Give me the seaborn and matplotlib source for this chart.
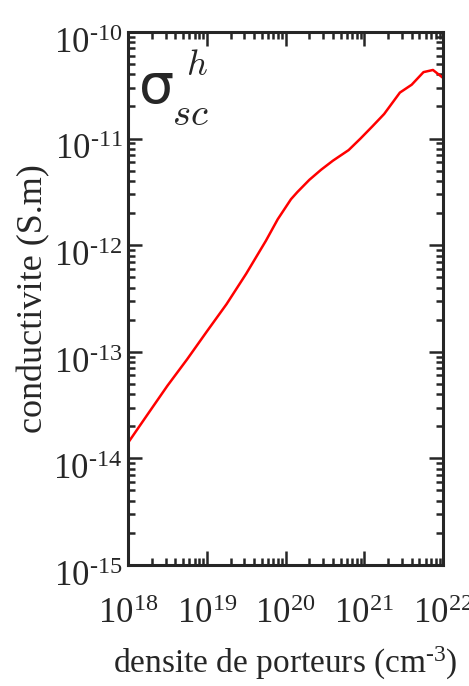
import matplotlib
matplotlib.use("Agg")
import matplotlib.pyplot as plt
import matplotlib.transforms as mtransforms
import seaborn as sns
import pandas as pd
import numpy as np
from matplotlib.ticker import LogLocator, NullFormatter, FuncFormatter

# values (log-log curve)
densite = [1.0e18, 1.78e18, 3.16e18, 5.62e18, 1.0e19, 1.78e19, 3.16e19, 5.62e19,
           7.94e19, 1.17e20, 1.41e20, 2.0e20, 2.82e20, 3.98e20, 6.31e20, 8.91e20,
           1.26e21, 1.78e21, 2.82e21, 3.98e21, 5.62e21, 7.41e21, 1.0e22]
conductivite = [1.4e-14, 2.6e-14, 4.8e-14, 8.5e-14, 1.55e-13, 2.8e-13, 5.4e-13, 1.1e-12,
                1.75e-12, 2.7e-12, 3.15e-12, 4.1e-12, 5.1e-12, 6.2e-12, 7.8e-12, 1.0e-11,
                1.3e-11, 1.7e-11, 2.7e-11, 3.2e-11, 4.2e-11, 4.4e-11, 3.7e-11]

df = pd.DataFrame({"densite": densite, "conductivite": conductivite})

HYPHEN = "\u2010"

sns.set_style("ticks")
plt.rcParams["font.family"] = ["Liberation Serif", "DejaVu Serif"]
plt.rcParams["mathtext.fontset"] = "custom"
plt.rcParams["mathtext.rm"] = "Liberation Serif"
plt.rcParams["mathtext.it"] = "Liberation Serif:italic"

fig = plt.figure(figsize=(4.69, 6.86), dpi=100)
ax = fig.add_axes([0.273, 0.1764, 0.672, 0.777])

sns.lineplot(data=df, x="densite", y="conductivite", color="red", linewidth=1.8, ax=ax)

ax.set_xscale("log")
ax.set_yscale("log")
ax.set_xlim(1e18, 1e22)
ax.set_ylim(1e-15, 1e-10)


def pow10(v, pos):
    e = int(round(np.log10(v)))
    s = str(e).replace("-", HYPHEN)
    return r"$\mathdefault{10^{%s}}$" % s


ax.xaxis.set_major_locator(LogLocator(base=10, numticks=10))
ax.xaxis.set_minor_locator(LogLocator(base=10, subs=range(2, 10), numticks=20))
ax.yaxis.set_major_locator(LogLocator(base=10, numticks=10))
ax.yaxis.set_minor_locator(LogLocator(base=10, subs=range(2, 10), numticks=20))
ax.xaxis.set_major_formatter(FuncFormatter(pow10))
ax.yaxis.set_major_formatter(FuncFormatter(pow10))
ax.xaxis.set_minor_formatter(NullFormatter())
ax.yaxis.set_minor_formatter(NullFormatter())

for s in ax.spines.values():
    s.set_linewidth(2.2)
    s.set_visible(True)
ax.tick_params(which="both", direction="in", top=True, right=True, width=1.8)
ax.tick_params(which="major", length=10, labelsize=25)
ax.tick_params(which="minor", length=5)
ax.tick_params(axis="x", which="major", pad=24)
ax.tick_params(axis="y", which="major", pad=4)

# y tick labels sit a little below their ticks in the reference
offset = mtransforms.ScaledTranslation(0, -6 / 72, fig.dpi_scale_trans)
for lab in ax.get_yticklabels():
    lab.set_transform(lab.get_transform() + offset)

ax.set_xlabel("densite de porteurs (cm$^{" + HYPHEN + "3}$)", fontsize=24, labelpad=10)
ax.set_ylabel("conductivite (S.m)", fontsize=26, labelpad=2)

# sigma label in the upper left corner
ax.text(0.035, 0.895, "σ", transform=ax.transAxes, fontsize=40,
        family="DejaVu Sans", ha="left", va="center")
ax.text(0.185, 0.935, r"$h$", transform=ax.transAxes, fontsize=26,
        math_fontfamily="cm", ha="left", va="center")
ax.text(0.14, 0.843, r"$sc$", transform=ax.transAxes, fontsize=28,
        math_fontfamily="cm", ha="left", va="center")

fig.savefig("out.png", dpi=100)
